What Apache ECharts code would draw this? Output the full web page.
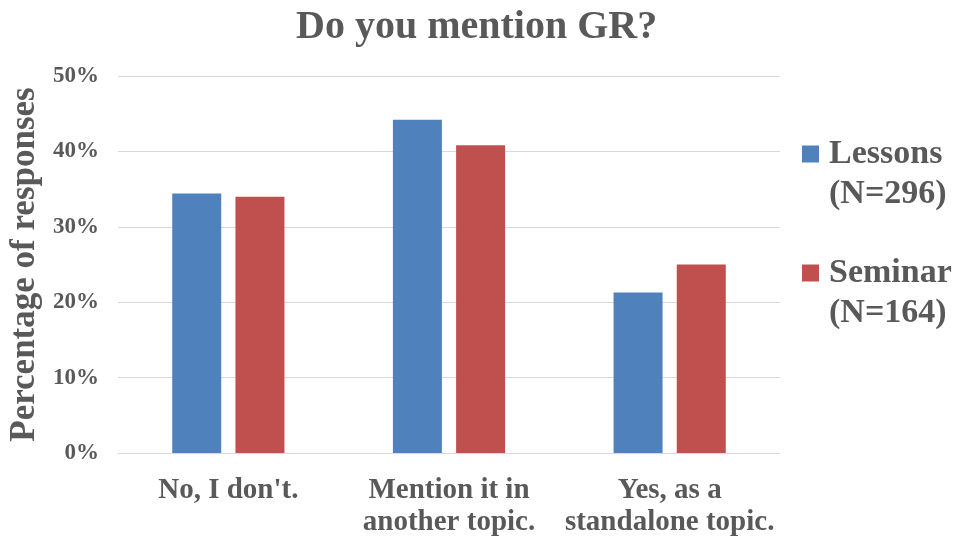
<!DOCTYPE html>
<html>
<head>
<meta charset="utf-8">
<script src="https://cdn.jsdelivr.net/npm/echarts@6/dist/echarts.min.js"></script>
<style>
  html, body { margin: 0; padding: 0; background: #fff; }
  #chart { width: 960px; height: 540px; }
</style>
</head>
<body>
<div id="chart"></div>
<script>
// answers on the x axis
const categories = ['No, I don\'t.', 'Mention it in\nanother topic.', 'Yes, as a\nstandalone topic.'];
// percentage of responses
const lessons = [34.4, 44.2, 21.3];
const seminar = [34.0, 40.8, 25.0];
const seriesNames = ['Lessons\n(N=296)', 'Seminar\n(N=164)'];

const font = 'Liberation Serif';
const grey = '#595959';

const chart = echarts.init(document.getElementById('chart'));

chart.setOption({
  animation: false,
  title: {
    text: 'Do you mention GR?',
    left: 296,
    top: 8,
    padding: 0,
    textStyle: { fontFamily: font, fontWeight: 'bold', fontSize: 40, color: grey },
  },
  grid: { left: 118, right: 180, top: 76, bottom: 87, outerBoundsMode: 'none' },
  legend: {
    orient: 'vertical',
    left: 802,
    top: 94,
    padding: 0,
    itemWidth: 17,
    itemHeight: 17,
    itemGap: -1,
    icon: 'rect',
    data: seriesNames,
    // empty first line keeps the square level with the first text line
    formatter: (name) => '\n' + name,
    textStyle: {
      fontFamily: font,
      fontWeight: 'bold',
      fontSize: 34,
      color: grey,
      lineHeight: 40,
      padding: [0, 0, 0, 5],
    },
  },
  xAxis: {
    type: 'category',
    data: categories,
    axisLine: { lineStyle: { color: '#D9D9D9' } },
    axisTick: { show: false },
    axisLabel: {
      interval: 0,
      margin: 22,
      fontFamily: font,
      fontWeight: 'bold',
      fontSize: 29,
      lineHeight: 32,
      color: grey,
    },
  },
  yAxis: {
    type: 'value',
    min: 0,
    max: 50,
    interval: 10,
    name: 'Percentage of responses',
    nameLocation: 'middle',
    nameRotate: 90,
    nameGap: 67,
    nameTextStyle: { fontFamily: font, fontWeight: 'bold', fontSize: 35, color: grey },
    axisLine: { show: false },
    axisTick: { show: false },
    splitLine: { lineStyle: { color: '#D9D9D9' } },
    axisLabel: {
      margin: 19,
      formatter: '{value}%',
      fontFamily: font,
      fontWeight: 'bold',
      fontSize: 23,
      color: grey,
    },
  },
  series: [
    {
      name: seriesNames[0],
      type: 'bar',
      data: lessons,
      barWidth: 49,
      barGap: '29%',
      itemStyle: { color: '#4F81BD' },
    },
    {
      name: seriesNames[1],
      type: 'bar',
      data: seminar,
      barWidth: 49,
      itemStyle: { color: '#C0504D' },
    },
  ],
});
</script>
</body>
</html>
